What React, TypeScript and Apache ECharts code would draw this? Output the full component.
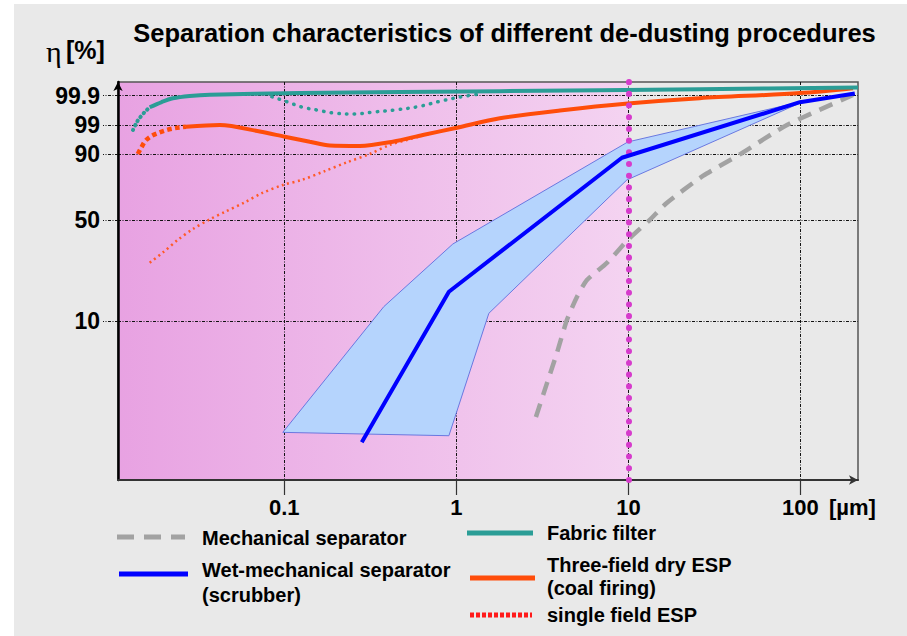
import React, { useEffect, useRef } from 'react';
import * as echarts from 'echarts';

const FONT = '"Liberation Sans", Arial, Helvetica, sans-serif';

const TITLE = 'Separation characteristics of different de-dusting procedures';
const Y_TITLE_SYMBOL = 'η';
const Y_TITLE_UNIT = '[%]';
const X_UNIT = '[µm]';

// x axis (particle size, µm, logarithmic)
const X_MIN = 0.0108;
const X_MAX = 216;
const X_TICKS = [0.1, 1, 10, 100];
const X_TICK_LABELS = ['0.1', '1', '10', '100'];

// y axis (separation efficiency η, %, non-linear scale of the original)
const Y_TICKS = [10, 50, 90, 99, 99.9];
const Y_TICK_LABELS = ['10', '50', '90', '99', '99.9'];
const SCALE_ETA = [1, 10, 50, 90, 99, 99.9, 99.99];
const SCALE_UNITS = [15, 159, 260, 325.7, 355, 384.3, 413.6];
const SCALE_MAX = 398;

// coloured background region ends at this size (µm)
const ZONE_END = 10;

// Mechanical separator
const MECH_X = [2.9, 3.36, 3.84, 4.39, 5.02, 5.74, 7.5, 9.93, 13.3, 16.7, 27.1, 44.5, 83.5, 202];
const MECH_ETA = [4.0, 6.1, 8.0, 10.4, 19.5, 26.2, 33.0, 42.1, 50.0, 60.4, 76.8, 90.0, 99.0, 99.902];

// Wet-mechanical separator (scrubber)
const WET_X = [0.282, 0.905, 9.17, 99.3, 207];
const WET_ETA = [2.42, 21.6, 87.9, 99.7, 99.907];

// scrubber range band (polygon vertices)
const BAND_X = [0.098, 0.379, 0.954, 9.93, 106, 9.8, 1.545, 0.905];
const BAND_ETA = [3.04, 15.7, 40.5, 93.8, 99.74, 74.4, 13.05, 2.83];

// Fabric filter
const FABRIC_X = [0.0165, 0.0194, 0.0225, 0.0282, 0.0369, 0.123, 1.79, 26.0, 216];
const FABRIC_ETA = [99.544, 99.706, 99.82, 99.891, 99.903, 99.908, 99.914, 99.92, 99.925];
const FABRIC_EXT_X = [0.0132, 0.0139, 0.01445, 0.01545, 0.0165];
const FABRIC_EXT_ETA = [97.46, 99.09, 99.22, 99.4, 99.544];
const FABRIC_DIP_X = [0.0846, 0.1034, 0.1264, 0.1545, 0.1993, 0.257, 0.3314, 0.4509, 0.5974, 0.8021, 1.077, 1.37];
const FABRIC_DIP_ETA = [99.869, 99.716, 99.553, 99.461, 99.359, 99.338, 99.399, 99.47, 99.562, 99.728, 99.869, 99.905];

// Three-field dry ESP (coal firing)
const ESP3_X = [0.0268, 0.0422, 0.072, 0.1007, 0.1406, 0.1839, 0.2748, 0.4273, 0.6386, 1.007, 1.79, 4.0, 9.93, 26.0, 99.3, 202];
const ESP3_ETA = [98.48, 99.0, 97.0, 95.41, 93.87, 92.7, 92.55, 93.87, 95.93, 98.17, 99.206, 99.445, 99.66, 99.823, 99.908, 99.923];
const ESP3_EXT_X = [0.01407, 0.01478, 0.0156, 0.0169, 0.01864, 0.02066, 0.02287, 0.02502, 0.0268];
const ESP3_EXT_ETA = [90.09, 92.15, 94.18, 95.62, 96.63, 97.46, 97.99, 98.29, 98.48];

// single field ESP
const ESP1_X = [0.0165, 0.01966, 0.02403, 0.02938, 0.03688, 0.04509, 0.05892, 0.074, 0.098, 0.1264, 0.172, 0.2309, 0.3141, 0.4107, 0.5157, 0.6737, 0.8021];
const ESP1_ETA = [33.1, 37.1, 42.1, 46.4, 50.4, 54.9, 60.8, 66.3, 71.3, 74.4, 79.8, 85.1, 90.1, 92.9, 94.4, 96.1, 97.2];

const SERIES_NAMES = [
  'Mechanical separator',
  'Wet-mechanical separator (scrubber)',
  'Fabric filter',
  'Three-field dry ESP (coal firing)',
  'single field ESP',
];
const LEGEND_TEXT = [
  ['Mechanical separator'],
  ['Wet-mechanical separator', '(scrubber)'],
  ['Fabric filter'],
  ['Three-field dry ESP', '(coal firing)'],
  ['single field ESP'],
];

const C_GRAY = '#a2a2a2';
const C_BLUE = '#0000ff';
const C_TEAL = '#2b9d96';
const C_ORANGE = '#ff4d0a';
const C_RED = '#ff1a1a';
const C_MAGENTA = '#d63bcc';
const DASHDOT = [3, 1.5, 1, 1.5];

function toAxis(eta: number): number {
  const n = SCALE_ETA.length;
  let i = 0;
  if (eta >= SCALE_ETA[n - 1]) i = n - 2;
  else if (eta > SCALE_ETA[0]) {
    while (eta > SCALE_ETA[i + 1]) i++;
  }
  const t = (eta - SCALE_ETA[i]) / (SCALE_ETA[i + 1] - SCALE_ETA[i]);
  return SCALE_UNITS[i] + t * (SCALE_UNITS[i + 1] - SCALE_UNITS[i]);
}

const pairs = (xs: number[], etas: number[]) => xs.map((x, i) => [x, toAxis(etas[i])]);

function buildOption(): any {
  const yTickUnits = Y_TICKS.map(toAxis);

  const line = (name: string, xs: number[], etas: number[], lineStyle: any, z: number, smooth: number | boolean, extra: any = {}) => ({
    type: 'line',
    name,
    data: pairs(xs, etas),
    symbol: 'none',
    showSymbol: false,
    smooth,
    silent: true,
    z,
    lineStyle,
    ...extra,
  });

  const legendLine = (x1: number, x2: number, y: number, stroke: string, lineDash?: number[]) => ({
    type: 'line',
    silent: true,
    shape: { x1, y1: y, x2, y2: y },
    style: { stroke, lineWidth: 5, lineDash: lineDash || null },
  });
  const text = (x: number, y: number, t: string, size: number, align = 'left') => ({
    type: 'text',
    silent: true,
    x,
    y,
    style: { text: t, fontFamily: FONT, fontSize: size, fontWeight: 'bold', fill: '#000', align, verticalAlign: 'middle' },
  });

  return {
    animation: false,
    backgroundColor: 'transparent',
    grid: {
      left: 118,
      right: 49,
      top: 82,
      bottom: 156,
      show: true,
      borderColor: '#555',
      borderWidth: 1.5,
      backgroundColor: 'transparent',
      containLabel: false,
      outerBoundsMode: 'none',
    },
    xAxis: {
      type: 'log',
      logBase: 10,
      min: X_MIN,
      max: X_MAX,
      axisLine: { show: true, lineStyle: { color: '#333', width: 2 }, symbol: ['none', 'arrow'], symbolSize: [7, 9] },
      axisTick: { show: true, customValues: X_TICKS, length: 15, lineStyle: { color: '#333', width: 1.2 } },
      axisLabel: {
        show: true,
        customValues: X_TICKS,
        margin: 16,
        color: '#000',
        fontFamily: FONT,
        fontSize: 22,
        fontWeight: 'bold',
        formatter: (v: number) => {
          const i = X_TICKS.findIndex((t) => Math.abs(Math.log10(t) - Math.log10(v)) < 1e-6);
          return i >= 0 ? X_TICK_LABELS[i] : '';
        },
      },
      splitLine: { show: true, lineStyle: { color: '#111', width: 1, type: DASHDOT } },
      minorTick: { show: false },
      minorSplitLine: { show: false },
    },
    yAxis: {
      type: 'value',
      min: 0,
      max: SCALE_MAX,
      axisLine: { show: true, lineStyle: { color: '#000', width: 2.5 }, symbol: ['none', 'arrow'], symbolSize: [7, 9] },
      axisTick: { show: true, customValues: yTickUnits, length: 15, lineStyle: { color: '#111', width: 1, type: DASHDOT } },
      axisLabel: {
        show: true,
        customValues: yTickUnits,
        margin: 18,
        color: '#000',
        fontFamily: FONT,
        fontSize: 23,
        fontWeight: 'bold',
        formatter: (v: number) => {
          const i = yTickUnits.findIndex((t) => Math.abs(t - v) < 0.01);
          return i >= 0 ? Y_TICK_LABELS[i] : '';
        },
      },
      splitLine: { show: true, lineStyle: { color: '#111', width: 1, type: DASHDOT } },
    },
    graphic: [
      text(504.5, 33, TITLE, 25.5, 'center'),
      {
        type: 'text',
        silent: true,
        x: 46,
        y: 51,
        style: {
          text: Y_TITLE_SYMBOL,
          fontFamily: '"Liberation Serif", "DejaVu Serif", serif',
          fontSize: 30,
          fontWeight: 'normal',
          fill: '#000',
          align: 'left',
          verticalAlign: 'middle',
        },
      },
      text(66, 50, Y_TITLE_UNIT, 25),
      text(829, 507, X_UNIT, 22),
      legendLine(117, 185, 537, C_GRAY, [17, 10]),
      text(202, 538, LEGEND_TEXT[0][0], 20),
      legendLine(119, 188, 574, C_BLUE),
      text(202, 570, LEGEND_TEXT[1][0], 20),
      text(202, 595, LEGEND_TEXT[1][1], 20),
      legendLine(467, 533, 533, C_TEAL),
      text(547, 533, LEGEND_TEXT[2][0], 20),
      legendLine(470, 535, 578, C_ORANGE),
      text(547, 565, LEGEND_TEXT[3][0], 20),
      text(547, 588, LEGEND_TEXT[3][1], 20),
      legendLine(470, 532, 615, C_RED, [4, 2]),
      text(547, 615, LEGEND_TEXT[4][0], 20),
    ],
    series: [
      {
        type: 'custom',
        name: 'zone',
        silent: true,
        z: -1,
        data: [[X_MIN, 0]],
        renderItem: (params: any, api: any) => {
          const p0 = api.coord([X_MIN, SCALE_MAX]);
          const p1 = api.coord([ZONE_END, 0]);
          return {
            type: 'rect',
            shape: { x: p0[0], y: p0[1], width: p1[0] - p0[0], height: p1[1] - p0[1] },
            style: {
              fill: new echarts.graphic.LinearGradient(0, 0, 1, 0, [
                { offset: 0, color: '#e8a2e2' },
                { offset: 1, color: '#f4d3f1' },
              ]),
            },
          };
        },
      },
      {
        type: 'custom',
        name: 'scrubber range',
        silent: true,
        z: 2,
        data: [[BAND_X[0], toAxis(BAND_ETA[0])]],
        renderItem: (params: any, api: any) => {
          const points = BAND_X.map((x, i) => api.coord([x, toAxis(BAND_ETA[i])]));
          return {
            type: 'polygon',
            shape: { points },
            style: { fill: '#b5d4fd', stroke: '#6a78e0', lineWidth: 1 },
          };
        },
      },
      line(SERIES_NAMES[4], ESP1_X, ESP1_ETA, { color: '#ff5a28', width: 2.5, type: [2, 3.5] }, 3, 0.3),
      line('Fabric filter (extension)', FABRIC_EXT_X, FABRIC_EXT_ETA, { color: C_TEAL, width: 4, type: [0.5, 4.5], cap: 'round' }, 3, 0.3),
      line('Fabric filter (variant)', FABRIC_DIP_X, FABRIC_DIP_ETA, { color: C_TEAL, width: 3.5, type: [0.5, 7.2], cap: 'round' }, 3, 0.4),
      line('Three-field dry ESP (extension)', ESP3_EXT_X, ESP3_EXT_ETA, { color: C_ORANGE, width: 4.5, type: [4.5, 3.5] }, 3, 0.3),
      line(SERIES_NAMES[3], ESP3_X, ESP3_ETA, { color: C_ORANGE, width: 4 }, 4, 0.3),
      line(SERIES_NAMES[2], FABRIC_X, FABRIC_ETA, { color: C_TEAL, width: 4 }, 4, 0.3),
      line(SERIES_NAMES[0], MECH_X, MECH_ETA, { color: C_GRAY, width: 4.5, type: [14, 9] }, 4, 0.2),
      line(SERIES_NAMES[1], WET_X, WET_ETA, { color: C_BLUE, width: 4 }, 5, false, {
        markLine: {
          silent: true,
          symbol: ['none', 'none'],
          label: { show: false },
          lineStyle: { color: C_MAGENTA, width: 6, type: [0.1, 11.6], cap: 'round' },
          data: [{ xAxis: ZONE_END }],
        },
      }),
    ],
  };
}

export default function App() {
  const ref = useRef<HTMLDivElement>(null);
  useEffect(() => {
    if (!ref.current) return;
    const chart = echarts.init(ref.current, null, { renderer: 'svg' });
    chart.setOption(buildOption());
    return () => chart.dispose();
  }, []);
  return (
    <div style={{ position: 'fixed', left: 0, top: 0, width: 907, height: 636, background: '#ffffff' }}>
      <div style={{ position: 'absolute', left: 14, top: 4, width: 893, height: 632, background: '#e9e9e9' }} />
      <div ref={ref} style={{ position: 'absolute', left: 0, top: 0, width: 907, height: 636 }} />
    </div>
  );
}
